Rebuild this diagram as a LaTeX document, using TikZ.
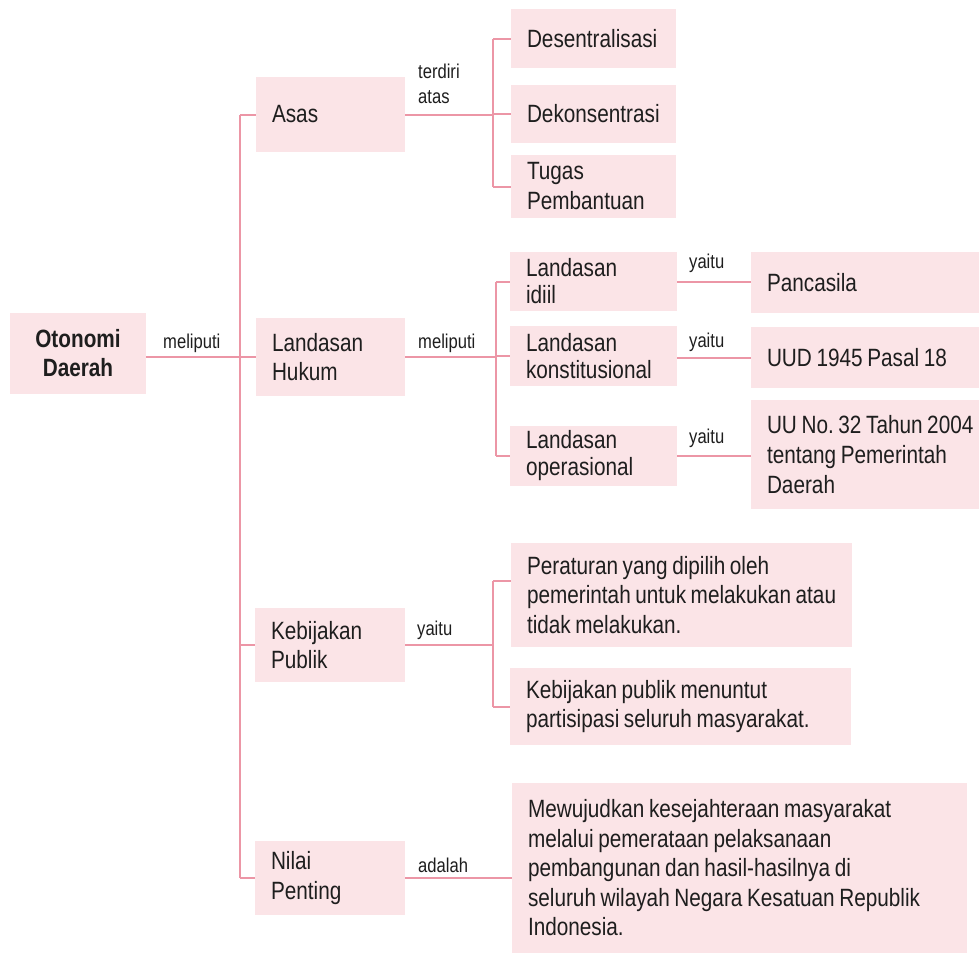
\documentclass[tikz,border=0pt]{standalone}
\usepackage{fontspec}
\setmainfont{Liberation Sans}[FakeStretch=0.83]
\definecolor{boxpink}{RGB}{251,228,231}
\definecolor{linepink}{RGB}{236,150,166}
\definecolor{txt}{RGB}{30,30,30}
\frenchspacing
\begin{document}
\frenchspacing
\begin{tikzpicture}[x=1pt,y=-1pt,
  box/.style={fill=boxpink, inner xsep=16pt, inner ysep=3pt, align=left, text=txt,
    font=\fontsize{25}{28}\selectfont,
    execute at begin node={\spaceskip=4.6pt plus 1pt minus 0.5pt\relax}},
  lbl/.style={inner sep=0pt, anchor=base west, text=txt, font=\fontsize{20}{25}\selectfont},
  conn/.style={draw=linepink, line width=2pt}]
\useasboundingbox (0,0) rectangle (979,953);
% boxes
\node[box, align=center, minimum width=136pt, text width=104pt, minimum height=81pt,
  font=\fontsize{25}{29}\selectfont\bfseries] (oto) at (78,353.5) {Otonomi\\Daerah};
\node[box, minimum width=149pt, text width=117pt, minimum height=75pt] (asas) at (330.5,114.5) {Asas};
\node[box, minimum width=149pt, text width=117pt, minimum height=78pt, font=\fontsize{25}{29}\selectfont] (lh) at (330.5,357) {Landasan\\Hukum};
\node[box, minimum width=150pt, text width=118pt, minimum height=74pt, font=\fontsize{25}{29}\selectfont] (kp) at (330,645) {Kebijakan\\Publik};
\node[box, minimum width=150pt, text width=118pt, minimum height=74pt, font=\fontsize{25}{30}\selectfont] (np) at (330,878) {Nilai\\Penting};
\node[box, minimum width=165pt, text width=133pt, minimum height=59pt] (des) at (593.5,38.5) {Desentralisasi};
\node[box, minimum width=165pt, text width=133pt, minimum height=58pt] (dek) at (593.5,114) {Dekonsentrasi};
\node[box, minimum width=165pt, text width=133pt, minimum height=63pt, font=\fontsize{25}{30}\selectfont] (tug) at (593.5,186.5) {Tugas\\Pembantuan};
\node[box, minimum width=167pt, text width=135pt, minimum height=59pt, font=\fontsize{25}{27}\selectfont] (li) at (593.5,281.5) {Landasan\\idiil};
\node[box, minimum width=167pt, text width=135pt, minimum height=60pt, font=\fontsize{25}{27}\selectfont] (lk) at (593.5,356) {Landasan\\konstitusional};
\node[box, minimum width=167pt, text width=135pt, minimum height=60pt, font=\fontsize{25}{27}\selectfont] (lo) at (593.5,456) {Landasan\\operasional};
\node[box, minimum width=228pt, text width=196pt, minimum height=61pt] (panc) at (865,282.5) {Pancasila};
\node[box, minimum width=228pt, text width=196pt, minimum height=61pt] (uud) at (865,357.5) {UUD 1945 Pasal 18};
\node[box, minimum width=228pt, text width=196pt, minimum height=109pt, font=\fontsize{25}{30}\selectfont] (uu) at (865,454.5) {\mbox{UU No. 32 Tahun 2004}\\tentang Pemerintah\\Daerah};
\node[box, minimum width=341pt, text width=309pt, minimum height=104pt, font=\fontsize{25}{29.5}\selectfont] (per) at (681.5,595) {Peraturan yang dipilih oleh\\\mbox{pemerintah untuk melakukan atau}\\tidak melakukan.};
\node[box, minimum width=341pt, text width=309pt, minimum height=77pt, font=\fontsize{25}{29.5}\selectfont] (keb) at (680.5,706.5) {Kebijakan publik menuntut\\partisipasi seluruh masyarakat.};
\node[box, minimum width=455pt, text width=423pt, minimum height=170pt, font=\fontsize{25}{29.5}\selectfont] (mew) at (739.5,868) {Mewujudkan kesejahteraan masyarakat\\melalui pemerataan pelaksanaan\\pembangunan dan hasil-hasilnya di\\seluruh wilayah Negara Kesatuan Republik\\Indonesia.};
% labels
\node[lbl] (l1) at (163,348) {meliputi};
\node[lbl, anchor=north west, align=left] (l2) at (418,63.5) {terdiri\\atas};
\node[lbl] (l3) at (418,348) {meliputi};
\node[lbl] (l4) at (689,268) {yaitu};
\node[lbl] (l5) at (689,347) {yaitu};
\node[lbl] (l6) at (689,443) {yaitu};
\node[lbl] (l7) at (417,635) {yaitu};
\node[lbl] (l8) at (418,872) {adalah};
% connector columns
\coordinate (tr) at (240,0);
\coordinate (b1) at (493,0);
\coordinate (b2) at (496,0);
\coordinate (b3) at (493,0);
\coordinate (p1) at (493,581);
% trunk
\draw[conn] (oto.east |- lh.west) -- (lh.west -| tr);
\draw[conn] (asas.west -| tr) -- (np.west -| tr);
\draw[conn] (asas.west -| tr) -- (asas.west);
\draw[conn] (lh.west -| tr) -- (lh.west);
\draw[conn] (kp.west -| tr) -- (kp.west);
\draw[conn] (np.west -| tr) -- (np.west);
% asas branch
\draw[conn] (asas.east) -- (asas.east -| b1);
\draw[conn] (des.west -| b1) -- (tug.west -| b1);
\draw[conn] (des.west -| b1) -- (des.west);
\draw[conn] (dek.west -| b1) -- (dek.west);
\draw[conn] (tug.west -| b1) -- (tug.west);
% landasan branch
\draw[conn] (lh.east) -- (lh.east -| b2);
\draw[conn] (li.west -| b2) -- (lo.west -| b2);
\draw[conn] (li.west -| b2) -- (li.west);
\draw[conn] (lk.west -| b2) -- (lk.west);
\draw[conn] (lo.west -| b2) -- (lo.west);
\draw[conn] (li.east) -- (li.east -| panc.west);
\draw[conn] (lk.east |- uud.west) -- (uud.west);
\draw[conn] (lo.east) -- (lo.east -| uu.west);
% kebijakan branch
\draw[conn] (kp.east) -- (kp.east -| b3);
\draw[conn] (p1) -- (keb.west -| b3);
\draw[conn] (p1) -- (p1 -| per.west);
\draw[conn] (keb.west -| b3) -- (keb.west);
% nilai
\draw[conn] (np.east) -- (np.east -| mew.west);
\end{tikzpicture}
\end{document}
